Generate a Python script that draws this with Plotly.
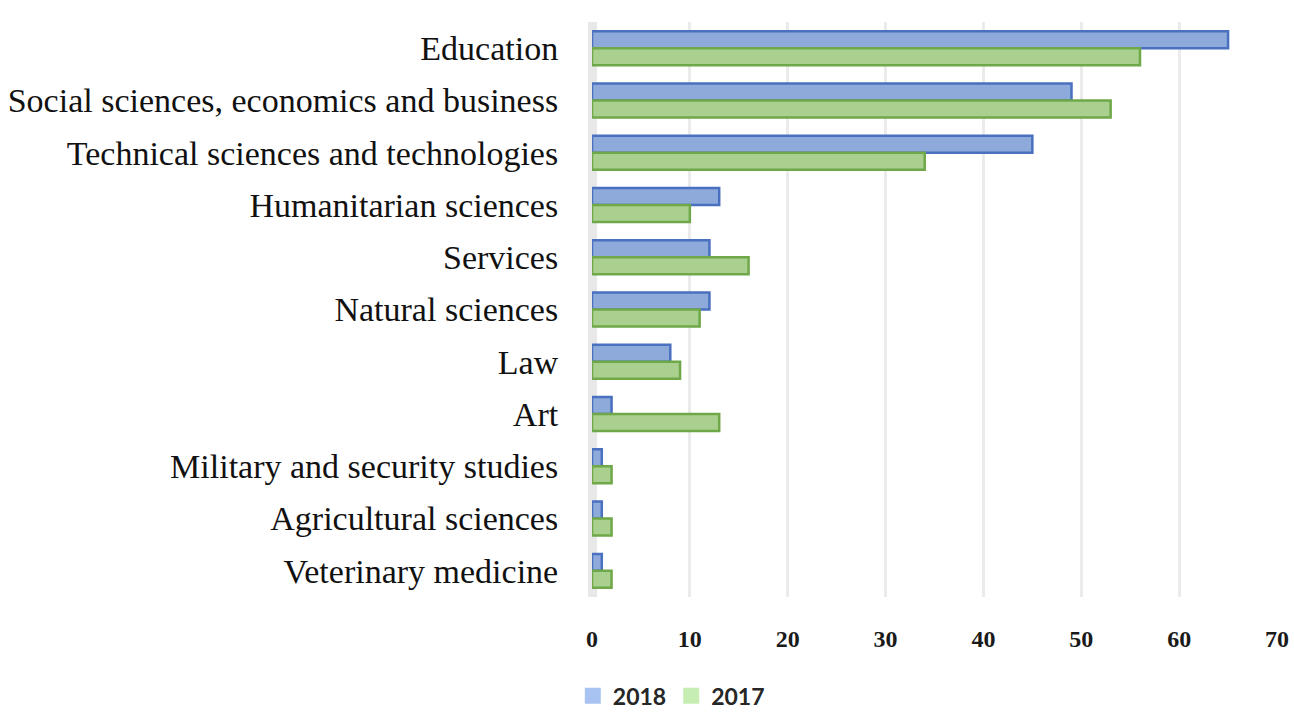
import plotly.graph_objects as go

categories = [
    "Education",
    "Social sciences, economics and business",
    "Technical sciences and technologies",
    "Humanitarian sciences",
    "Services",
    "Natural sciences",
    "Law",
    "Art",
    "Military and security studies",
    "Agricultural sciences",
    "Veterinary medicine",
]
values_2018 = [65, 49, 45, 13, 12, 12, 8, 2, 1, 1, 1]
values_2017 = [56, 53, 34, 10, 16, 11, 9, 13, 2, 2, 2]
x_ticks = [0, 10, 20, 30, 40, 50, 60, 70]

fig = go.Figure()
fig.add_trace(go.Bar(
    y=categories, x=values_2018, name="2018", orientation="h", showlegend=False,
    marker=dict(color="#8EAADB", line=dict(color="#4A70C0", width=2.5)),
))
fig.add_trace(go.Bar(
    y=categories, x=values_2017, name="2017", orientation="h", showlegend=False,
    marker=dict(color="#A9D08E", line=dict(color="#6FA848", width=2.5)),
))
# legend swatches (lighter, as in the reference legend)
fig.add_trace(go.Scatter(
    x=[None], y=[None], mode="markers", name="2018",
    marker=dict(symbol="square", size=16, color="#A8C3F2", line=dict(width=0)),
))
fig.add_trace(go.Scatter(
    x=[None], y=[None], mode="markers", name="2017",
    marker=dict(symbol="square", size=16, color="#C6EEB2", line=dict(width=0)),
))

fig.update_layout(
    width=1294, height=712,
    margin=dict(l=592, r=17, t=22, b=115),
    paper_bgcolor="white", plot_bgcolor="white",
    barmode="group", bargap=0.35, bargroupgap=0.0,
    showlegend=True,
    legend=dict(
        orientation="h", x=-0.028, xanchor="left",
        yref="container", y=0.053, yanchor="top",
        font=dict(family="Lato", size=23, color="#262626", weight="bold"),
        traceorder="normal", itemsizing="trace", entrywidth=0,
    ),
    xaxis=dict(
        range=[0, 70], tickvals=x_ticks, showgrid=True, gridcolor="#EBEBEB", gridwidth=3,
        zeroline=True, zerolinecolor="#E8E8E8", zerolinewidth=9,
        ticks="outside", ticklen=20, tickcolor="rgba(0,0,0,0)",
        tickfont=dict(family="Liberation Serif", size=24, color="#1a1a1a", weight="bold"),
        showline=False, automargin=False,
    ),
    yaxis=dict(
        autorange="reversed", showgrid=False, zeroline=False, showline=False,
        ticks="outside", ticklen=26, tickcolor="rgba(0,0,0,0)",
        tickfont=dict(family="Liberation Serif", size=34, color="#111111"),
        automargin=False,
    ),
)

fig.write_html("out.html", config={"displayModeBar": False},
               post_script="document.body.style.margin='0';")
